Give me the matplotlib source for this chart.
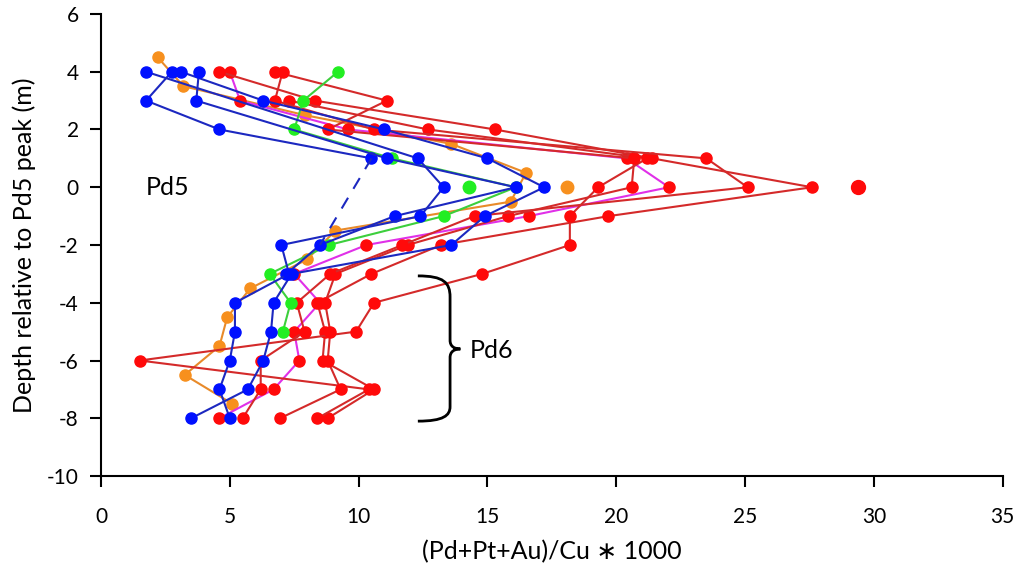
import matplotlib
matplotlib.use("Agg")
import matplotlib.pyplot as plt
from matplotlib.path import Path
from matplotlib.patches import PathPatch

# ---------------- data ----------------
# blue series (depth, ratio)
blue_a_depth = [4, 3, 2, 1]
blue_a_x = [2.75, 1.75, 4.6, 10.5]
blue_dash_depth = [1, -2]
blue_dash_x = [10.5, 8.5]
blue_b_depth = [4, 3, 2, 1, 0, -1, -2, -3, -4, -5, -6, -7, -8]
blue_b_x = [3.1, 6.3, 11.0, 15.0, 17.2, 14.9, 13.6, 7.4, 6.7, 6.6, 6.3, 5.7, 3.5]
blue_c_depth = [4, 3, 1, 0, -1, -2, -3]
blue_c_x = [3.8, 3.7, 11.1, 16.1, 11.4, 8.5, 7.2]
blue_d_depth = [4, 1, 0, -1, -2, -3, -4, -5, -6, -7, -8]
blue_d_x = [1.75, 12.3, 13.3, 12.4, 7.0, 7.3, 5.2, 5.2, 5.0, 4.6, 5.0]

# green series
green_depth = [4, 3, 2, 1, 0, -1, -2, -3, -4, -5]
green_x = [9.2, 7.85, 7.5, 11.3, 16.1, 13.3, 8.85, 6.55, 7.36, 7.06]

# orange series (half-metre samples)
orange_depth = [4.5, 3.5, 2.5, 1.5, 0.5, -0.5, -1.5, -2.5, -3.5, -4.5, -5.5, -6.5, -7.5]
orange_x = [2.2, 3.2, 7.9, 13.6, 16.5, 15.9, 9.1, 8.0, 5.8, 4.9, 4.6, 3.25, 5.1]

# magenta-line series (red markers)
magenta_depth = [4, 3, 2, 1, 0, -1, -2, -3, -4, -5, -6, -7, -8]
magenta_x = [5.0, 5.4, 9.6, 20.4, 22.05, 16.6, 10.3, 7.5, 8.5, 7.5, 7.7, 6.7, 4.6]

# red series
red_a_depth = [4, 3, 2, 1, 0, -1, -2, -3, -4, -5, -6, -7, -8]
red_a_x = [4.6, 8.3, 15.3, 21.4, 27.6, 19.7, 13.2, 10.5, 8.4, 8.7, 8.6, 10.6, 8.8]
red_b_depth = [3, 2, 1, 0, -1, -2, -3, -4, -5, -6, -7, -8]
red_b_x = [7.3, 12.7, 21.2, 19.3, 18.2, 18.2, 14.8, 10.6, 9.9, 1.5, 10.4, 8.4]
red_c_depth = [4, 3, 2, 1, 0, -1, -2, -3, -4, -5, -6, -7, -8]
red_c_x = [6.75, 11.1, 8.8, 20.7, 20.6, 15.8, 11.9, 9.1, 8.7, 8.9, 8.8, 9.3, 6.95]
red_d_depth = [4, 3, 2, 1, 0, -1, -2, -3, -4, -5, -6, -7, -8]
red_d_x = [7.05, 6.75, 10.6, 23.5, 25.1, 14.5, 11.7, 8.9, 7.6, 7.9, 6.2, 6.2, 5.5]

# isolated points at the Pd5 peak
iso_orange = (18.1, 0)
iso_green = (14.3, 0)
iso_red = (29.4, 0)

x_ticks = [0, 5, 10, 15, 20, 25, 30, 35]
y_ticks = [-10, -8, -6, -4, -2, 0, 2, 4, 6]

# ---------------- style ----------------
BLUE_L, BLUE_M = "#1c28c0", "#0010ff"
RED_L, RED_M = "#d42a2a", "#ff0a0a"
GREEN_L, GREEN_M = "#3ccf3c", "#22ee22"
ORANGE_L, ORANGE_M = "#e88a2a", "#f7901e"
MAG_L = "#e030e8"
MS = 8
LW = 1.5

plt.rcParams['font.family'] = ['Lato', 'DejaVu Sans']
plt.rcParams['axes.unicode_minus'] = False
fig = plt.figure(figsize=(10.2, 5.76), dpi=100)
ax = fig.add_axes([0.099, 0.1736, 0.884, 0.8021])

def series(xs, ys, lc, mc, z, ls='-'):
    ax.plot(xs, ys, color=lc, lw=LW, ls=ls, marker='o', ms=MS,
            mfc=mc, mec=mc, zorder=z)

series(orange_x, orange_depth, ORANGE_L, ORANGE_M, 2)
series(magenta_x, magenta_depth, MAG_L, RED_M, 3)
for xs, ds in [(red_a_x, red_a_depth), (red_b_x, red_b_depth),
               (red_c_x, red_c_depth), (red_d_x, red_d_depth)]:
    series(xs, ds, RED_L, RED_M, 4)
series(green_x, green_depth, GREEN_L, GREEN_M, 5)
for xs, ds in [(blue_a_x, blue_a_depth), (blue_b_x, blue_b_depth),
               (blue_c_x, blue_c_depth), (blue_d_x, blue_d_depth)]:
    series(xs, ds, BLUE_L, BLUE_M, 6)
ax.plot(blue_dash_x, blue_dash_depth, color=BLUE_L, lw=LW,
        dashes=(6, 5), zorder=6)

ax.plot(*iso_orange, 'o', ms=MS + 1, color=ORANGE_M, zorder=7)
ax.plot(*iso_green, 'o', ms=MS + 1, color=GREEN_M, zorder=7)
ax.plot(*iso_red, 'o', ms=MS + 2, color=RED_M, zorder=7)

# brace for Pd6
verts = [(12.3, -3.07), (13.3, -3.07), (13.55, -3.3), (13.55, -3.8),
         (13.55, -5.3),
         (13.55, -5.5), (13.7, -5.6), (13.95, -5.6),
         (13.7, -5.6), (13.55, -5.7), (13.55, -5.9),
         (13.55, -7.6),
         (13.55, -7.9), (13.3, -8.1), (12.3, -8.1)]
codes = [Path.MOVETO, Path.CURVE4, Path.CURVE4, Path.CURVE4,
         Path.LINETO,
         Path.CURVE4, Path.CURVE4, Path.CURVE4,
         Path.CURVE4, Path.CURVE4, Path.CURVE4,
         Path.LINETO,
         Path.CURVE4, Path.CURVE4, Path.CURVE4]
ax.add_patch(PathPatch(Path(verts, codes), fill=False, lw=2, ec='black', zorder=8))

ax.text(1.75, 0, "Pd5", fontsize=18, va='center', ha='left')
ax.text(14.3, -5.65, "Pd6", fontsize=18, va='center', ha='left')

ax.set_xlim(0, 35)
ax.set_ylim(-10, 6)
ax.set_xticks(x_ticks)
ax.set_yticks(y_ticks)
ax.spines['top'].set_visible(False)
ax.spines['right'].set_visible(False)
for s in ['left', 'bottom']:
    ax.spines[s].set_linewidth(1.5)
ax.tick_params(direction='out', length=8, width=1.5, labelsize=15)
ax.tick_params(axis='x', pad=14)
ax.tick_params(axis='y', pad=8)
ax.set_xlabel("(Pd+Pt+Au)/Cu \u2217 1000", fontsize=18, labelpad=10)
ax.set_ylabel("Depth relative to Pd5 peak (m)", fontsize=18, labelpad=8)

fig.savefig("out.png", dpi=100)
